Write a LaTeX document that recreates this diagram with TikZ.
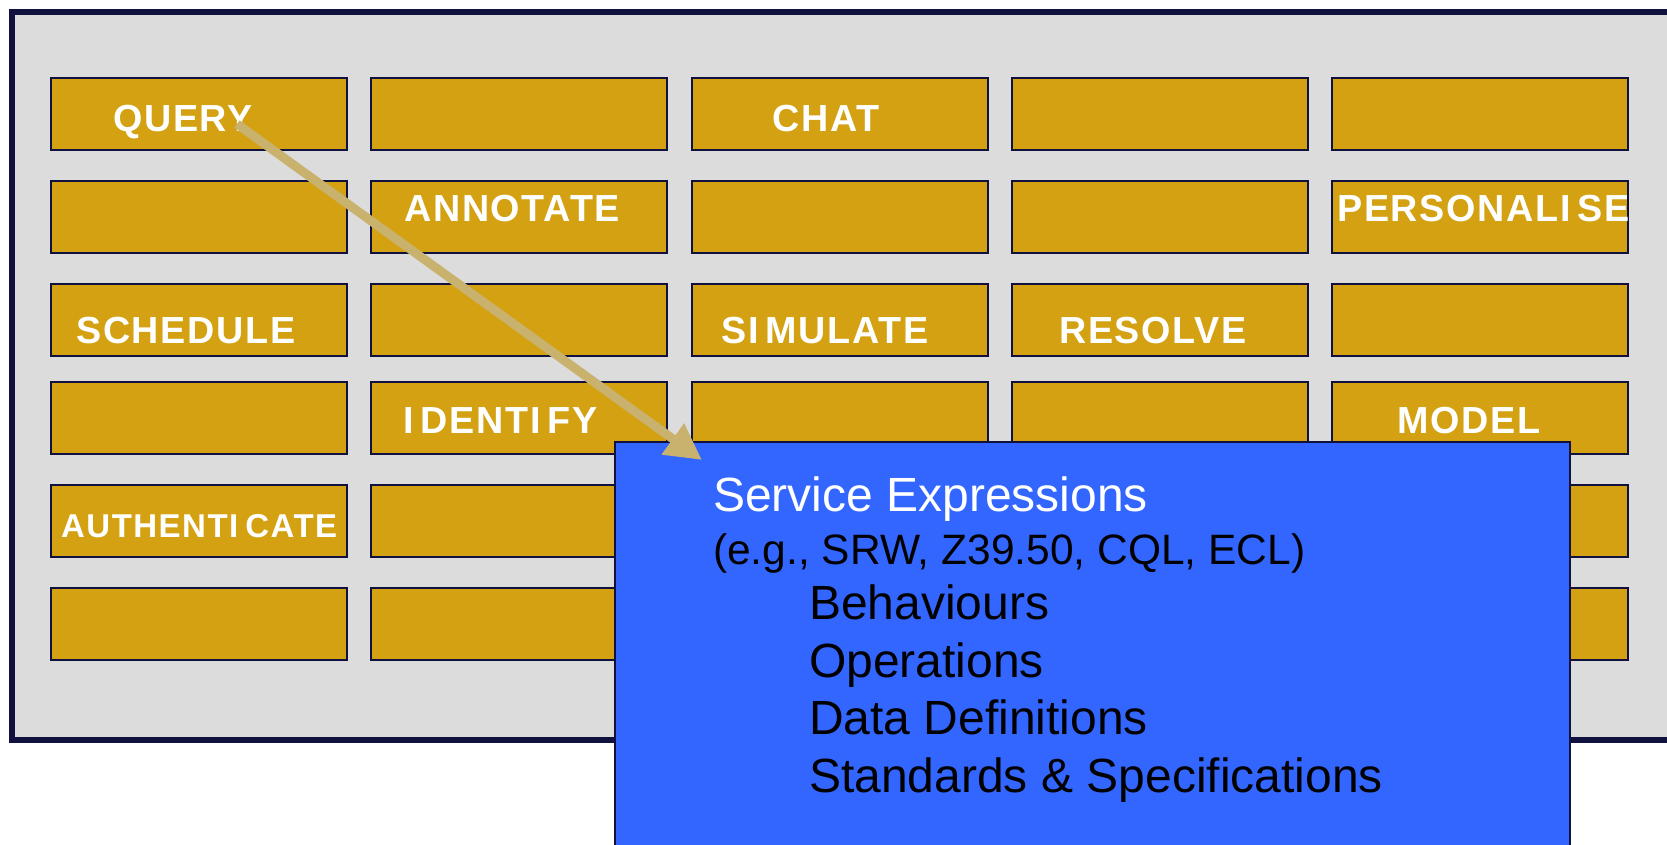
\documentclass[tikz,border=0pt]{standalone}
\usepackage{fontspec}
\setmainfont{Liberation Sans}
\newfontfamily\labelfont{Liberation Sans}[LetterSpace=4.5]
\usetikzlibrary{arrows.meta}
\definecolor{frameNavy}{HTML}{11113F}
\definecolor{panelGrey}{HTML}{DCDCDC}
\definecolor{tileGold}{HTML}{D3A112}
\definecolor{exprBlue}{HTML}{3366FF}
\definecolor{arrowTan}{HTML}{C8B26E}
\tikzset{
  tile/.style={draw=frameNavy, line width=2.2, fill=tileGold, anchor=north west,
    minimum width=296, minimum height=72, inner sep=0},
  lab/.style={anchor=base west, inner sep=0, text=white,
    font=\labelfont\bfseries\fontsize{37.7}{40}\selectfont},
  smalllab/.style={lab, font=\labelfont\bfseries\fontsize{33}{35}\selectfont},
  exprhead/.style={anchor=base west, inner sep=0, text=white,
    font=\fontsize{48}{52}\selectfont},
  exprsub/.style={anchor=base west, inner sep=0, text=black,
    font=\fontsize{42.5}{46}\selectfont},
  expritem/.style={anchor=base west, inner sep=0, text=black,
    font=\fontsize{48}{52}\selectfont},
  linkarrow/.style={draw=arrowTan, line width=9,
    -{Triangle[length=36pt,width=36pt,fill=arrowTan]}}
}
\newcommand{\Igap}{I\kern7pt}
\begin{document}
\begin{tikzpicture}[x=1pt,y=-1pt]
  \useasboundingbox (0,0) rectangle (1667,845);
  \clip (0,0) rectangle (1667,845);
  \fill[white] (0,0) rectangle (1667,845);

  % grey panel with dark frame, running off the right edge
  \draw[frameNavy, line width=6, fill=panelGrey] (11.5,12) rectangle (1720,740);

  % grid of service tiles
  \foreach \r/\y in {1/77,2/180,3/283,4/381,5/484,6/587}{
    \foreach \c in {1,...,5}{
      \node[tile] (t\r\c) at ({50+(\c-1)*320.25},\y) {};
    }
  }

  % tile labels
  \node[lab] (lquery)   at (113,131.5)  {QUERY};
  \node[lab] (lchat)    at (772,131.5)  {CHAT};
  \node[lab] (lannot)   at (404,222)    {ANNOTATE};
  \node[lab] (lperson)  at (1337,222)   {PERSONAL\Igap SE};
  \node[lab] (lsched)   at (76,343.5)   {SCHEDULE};
  \node[lab] (lsimul)   at (721,343.5)  {S\Igap MULATE};
  \node[lab] (lresolve) at (1059,343.5) {RESOLVE};
  \node[lab] (lident)   at (403,433.5)  {\Igap DENT\Igap FY};
  \node[lab] (lmodel)   at (1397,433.5) {MODEL};
  \node[smalllab] (lauth) at (61,537)   {AUTHENT\Igap CATE};

  % service expressions panel
  \node[draw=frameNavy, line width=2, fill=exprBlue, anchor=north west,
        minimum width=955, minimum height=430, inner sep=0] (expr) at (614,441) {};
  \node[exprhead] (ehead) at (713,511) {Service Expressions};
  \node[exprsub]  (esub)  at (713,564) {(e.g., SRW, Z39.50, CQL, ECL)};
  \node[expritem] (e1) at (809,619) {Behaviours};
  \node[expritem] (e2) at (809,677) {Operations};
  \node[expritem] (e3) at (809,734) {Data Definitions};
  \node[expritem] (e4) at (809,792) {Standards \& Specifications};

  % link from the query tile into the panel
  \coordinate (qfrom) at (237,124);
  \coordinate (qto) at (702,460);
  \draw[linkarrow] (qfrom) -- (qto);
\end{tikzpicture}
\end{document}
